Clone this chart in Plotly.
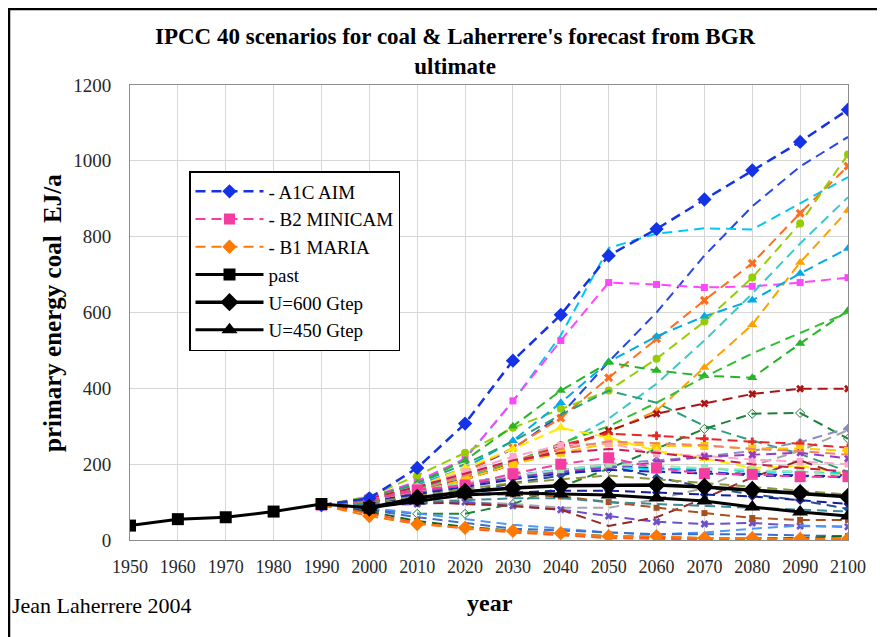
import plotly.graph_objects as go

# ---------------- data ----------------
years_past = [1950, 1960, 1970, 1980, 1990, 2000]
past = [38, 55, 60, 75, 95, 85]

years_u = [2000, 2010, 2020, 2030, 2040, 2050, 2060, 2070, 2080, 2090, 2100]
u600 = [85, 111, 127, 137, 143, 145, 145, 140, 132, 124, 114]
u450 = [85, 103, 119, 124, 121, 119, 111, 103, 87, 74, 63]

years = [1990, 2000, 2010, 2020, 2030, 2040, 2050, 2060, 2070, 2080, 2090, 2100]
a1c_aim = [92, 110, 190, 307, 473, 594, 750, 820, 898, 975, 1050, 1135]
b2_minicam = [92, 105, 132, 145, 175, 200, 217, 190, 175, 173, 167, 167]
b1_maria = [92, 63, 42, 32, 24, 18, 10, 10, 5, 5, 3, 3]
blue2 = [92, 105, 135, 180, 240, 330, 470, 600, 750, 880, 985, 1063]
cyan1 = [92, 108, 150, 215, 365, 540, 770, 808, 822, 819, 888, 957]
magenta1 = [92, 112, 155, 214, 367, 526, 679, 674, 666, 669, 679, 692]
orange_x = [92, 108, 140, 180, 243, 322, 428, 531, 632, 730, 862, 986]
ygreen = [92, 115, 170, 230, 296, 346, 394, 478, 576, 692, 835, 1017]
turq = [92, 100, 130, 165, 200, 250, 320, 412, 526, 650, 782, 904]
lorange = [92, 100, 125, 160, 200, 240, 285, 341, 455, 568, 732, 870]
sky = [92, 108, 145, 190, 262, 362, 470, 537, 590, 632, 703, 769]
green_tri = [92, 110, 150, 210, 300, 394, 468, 447, 433, 428, 518, 605]
green2 = [92, 105, 135, 170, 205, 255, 300, 362, 430, 492, 545, 600]
seagreen = [92, 108, 150, 200, 260, 330, 394, 362, 301, 262, 227, 180]
darkred = [92, 105, 130, 160, 200, 240, 288, 333, 360, 385, 399, 399]
darkgreen = [92, 80, 69, 69, 95, 140, 188, 241, 293, 333, 335, 267]
lavender = [92, 105, 125, 150, 170, 185, 200, 210, 220, 235, 258, 295]
gray1 = [92, 95, 100, 100, 95, 85, 85, 108, 137, 196, 235, 290]
red_plus = [92, 108, 130, 160, 200, 250, 280, 275, 267, 259, 254, 243]
gold = [92, 105, 125, 160, 200, 230, 255, 248, 248, 241, 241, 235]
yellow_tri = [92, 110, 140, 190, 240, 296, 270, 235, 215, 190, 195, 175]
pink_light = [92, 110, 140, 180, 220, 250, 255, 228, 222, 212, 207, 200]
navy = [92, 100, 120, 150, 170, 185, 195, 190, 182, 169, 169, 165]
steelnavy = [92, 100, 110, 125, 150, 170, 196, 165, 140, 120, 105, 82]
purple_x = [92, 90, 95, 100, 90, 80, 63, 48, 42, 45, 37, 35]
brownred = [92, 95, 100, 95, 90, 80, 37, 60, 110, 165, 210, 165]
brown = [92, 100, 110, 120, 120, 115, 100, 85, 71, 58, 53, 53]
lightblue = [92, 85, 70, 55, 40, 30, 20, 15, 20, 30, 38, 35]
steelblue_low = [92, 80, 60, 45, 30, 25, 20, 15, 15, 15, 12, 10]
darkgreen_low = [92, 75, 50, 35, 25, 18, 10, 8, 5, 5, 5, 10]
orangered_low = [92, 70, 45, 30, 20, 12, 5, 3, 2, 2, 2, 2]
cyan_sq = [92, 105, 130, 150, 170, 185, 195, 185, 190, 180, 180, 175]
medpurple = [92, 105, 125, 145, 165, 180, 190, 205, 220, 225, 230, 215]
blue_mid = [92, 105, 120, 140, 160, 175, 185, 180, 175, 175, 170, 168]
teal_low = [92, 95, 100, 105, 110, 110, 100, 95, 90, 85, 80, 75]
dkblue_dia = [92, 100, 110, 120, 125, 130, 130, 125, 120, 115, 105, 95]
lightgreen = [92, 105, 130, 150, 170, 185, 200, 195, 190, 185, 180, 170]
salmon = [92, 105, 130, 170, 210, 240, 260, 255, 250, 240, 235, 225]
olive = [92, 100, 115, 135, 150, 160, 170, 160, 150, 140, 130, 120]
crimson = [92, 110, 140, 175, 210, 230, 240, 230, 215, 200, 190, 180]

FONT = "Liberation Serif"
DASH = "10px,6px"

# page offset: the browser's default body margin (8px) shifts the figure
OFF = 8
PL, PR, PT, PB = 130, 848, 85, 540  # plot area in page pixels
PW, PH = PR - PL, PB - PT


def px(xpage):
    return (xpage - PL) / PW


def py(ypage):
    return (PB - ypage) / PH


fig = go.Figure()

# (values, colour, marker symbol or None, marker size)
others = [
    (blue2, "rgb(40,70,230)", None, 0),
    (cyan1, "rgb(0,200,240)", None, 0),
    (magenta1, "rgb(255,70,255)", "square", 7),
    (orange_x, "rgb(255,110,30)", "x", 8),
    (ygreen, "rgb(150,205,0)", "circle", 8),
    (turq, "rgb(60,200,200)", None, 0),
    (lorange, "rgb(255,160,0)", "triangle-up", 9),
    (sky, "rgb(0,170,230)", "triangle-up", 9),
    (green_tri, "rgb(40,180,40)", "triangle-up", 9),
    (green2, "rgb(50,190,50)", None, 0),
    (seagreen, "rgb(40,160,120)", None, 0),
    (darkred, "rgb(170,20,20)", "x", 7),
    (darkgreen, "rgb(30,130,60)", "diamond-open", 7),
    (lavender, "rgb(140,140,190)", "diamond", 7),
    (gray1, "rgb(165,165,165)", None, 0),
    (red_plus, "rgb(230,40,40)", "cross", 7),
    (gold, "rgb(255,200,0)", "square", 8),
    (yellow_tri, "rgb(255,235,0)", "triangle-up", 10),
    (pink_light, "rgb(255,165,200)", "square", 7),
    (navy, "rgb(30,60,200)", None, 0),
    (steelnavy, "rgb(40,80,150)", "diamond", 7),
    (purple_x, "rgb(110,80,200)", "x", 7),
    (brownred, "rgb(150,40,40)", None, 0),
    (brown, "rgb(170,80,30)", "square", 6),
    (lightblue, "rgb(80,150,250)", None, 0),
    (steelblue_low, "rgb(60,110,200)", None, 0),
    (darkgreen_low, "rgb(20,100,40)", "square", 6),
    (orangered_low, "rgb(255,90,40)", None, 0),
    (cyan_sq, "rgb(0,220,240)", "square", 7),
    (medpurple, "rgb(150,60,190)", "x", 7),
    (blue_mid, "rgb(20,40,180)", None, 0),
    (teal_low, "rgb(60,140,150)", None, 0),
    (dkblue_dia, "rgb(20,30,150)", "diamond", 7),
    (lightgreen, "rgb(170,225,170)", "square", 7),
    (salmon, "rgb(240,130,110)", None, 0),
    (olive, "rgb(140,150,60)", None, 0),
    (crimson, "rgb(200,30,80)", None, 0),
]

for vals, col, sym, sz in others:
    fig.add_trace(go.Scatter(
        x=years, y=vals, mode="lines+markers" if sym else "lines",
        line=dict(color=col, width=2, dash=DASH),
        marker=dict(symbol=sym or "circle", size=sz, color=col),
        showlegend=False, hoverinfo="skip"))

# legend series
fig.add_trace(go.Scatter(x=years, y=b2_minicam, mode="lines+markers", name="- B2 MINICAM",
                         line=dict(color="rgb(245,60,160)", width=2, dash=DASH),
                         marker=dict(symbol="square", size=11, color="rgb(245,60,160)"),
                         legendrank=2))
fig.add_trace(go.Scatter(x=years, y=b1_maria, mode="lines+markers", name="- B1 MARIA",
                         line=dict(color="rgb(255,120,0)", width=2, dash=DASH),
                         marker=dict(symbol="diamond", size=11, color="rgb(255,120,0)"),
                         legendrank=3))
fig.add_trace(go.Scatter(x=years, y=a1c_aim, mode="lines+markers", name="- A1C AIM",
                         line=dict(color="rgb(20,50,230)", width=2.5, dash=DASH),
                         marker=dict(symbol="diamond", size=11, color="rgb(20,50,230)"),
                         legendrank=1))

fig.add_trace(go.Scatter(x=years_past, y=past, mode="lines+markers", name="past",
                         line=dict(color="black", width=3),
                         marker=dict(symbol="square", size=12, color="black"),
                         legendrank=4))
fig.add_trace(go.Scatter(x=years_u, y=u600, mode="lines+markers", name="U=600 Gtep",
                         line=dict(color="black", width=3.5),
                         marker=dict(symbol="diamond", size=14, color="black"),
                         legendrank=5))
fig.add_trace(go.Scatter(x=years_u, y=u450, mode="lines+markers", name="U=450 Gtep",
                         line=dict(color="black", width=3),
                         marker=dict(symbol="triangle-up", size=14, color="black"),
                         legendrank=6))

W, H = 885 - OFF, 637 - OFF
fig.update_layout(
    width=W, height=H,
    margin=dict(l=PL - OFF, r=W - (PR - OFF), t=PT - OFF, b=H - (PB - OFF)),
    paper_bgcolor="white", plot_bgcolor="white",
    font=dict(family=FONT, color="black", size=17),
    legend=dict(x=px(189), y=py(171), xanchor="left", yanchor="top",
                bgcolor="white", bordercolor="black", borderwidth=1.5,
                font=dict(family=FONT, size=19, color="black"),
                itemwidth=68, tracegroupgap=0),
    xaxis=dict(range=[1950, 2100], tickmode="linear", tick0=1950, dtick=10,
               showgrid=True, gridcolor="rgb(215,215,215)", gridwidth=1,
               showline=True, linecolor="rgb(140,140,140)", linewidth=1, mirror=True,
               ticks="", ticklabelstandoff=10, zeroline=False,
               tickfont=dict(family=FONT, size=18, color="rgb(40,40,40)")),
    yaxis=dict(range=[0, 1200], tickmode="linear", tick0=0, dtick=200,
               showgrid=True, gridcolor="rgb(215,215,215)", gridwidth=1,
               showline=True, linecolor="rgb(140,140,140)", linewidth=1, mirror=True,
               ticks="", ticklabelstandoff=14, zeroline=False,
               tickfont=dict(family=FONT, size=19, color="rgb(40,40,40)")),
    annotations=[
        dict(text="<b>IPCC 40 scenarios for coal & Laherrere's forecast from BGR<br>ultimate</b>",
             xref="paper", yref="paper", x=px(455), y=py(51), xanchor="center", yanchor="middle",
             showarrow=False, font=dict(family=FONT, size=23, color="black")),
        dict(text="<b>primary energy coal \u00a0EJ/a</b>", textangle=-90,
             xref="paper", yref="paper", x=px(52), y=py(313),
             xanchor="center", yanchor="middle", showarrow=False,
             font=dict(family=FONT, size=25, color="black")),
        dict(text="<b>year</b>", xref="paper", yref="paper",
             x=px(490), y=py(603), xanchor="center", yanchor="middle",
             showarrow=False, font=dict(family=FONT, size=24, color="black")),
        dict(text="Jean Laherrere 2004", xref="paper", yref="paper",
             x=px(10), y=py(605), xanchor="left", yanchor="middle",
             showarrow=False, font=dict(family=FONT, size=22, color="black")),
    ],
    shapes=[dict(type="rect", xref="paper", yref="paper",
                 x0=px(OFF + 1), x1=px(884),
                 y0=py(650), y1=py(OFF + 1),
                 line=dict(color="black", width=2.5), layer="above")],
)

fig.write_html("out.html")
